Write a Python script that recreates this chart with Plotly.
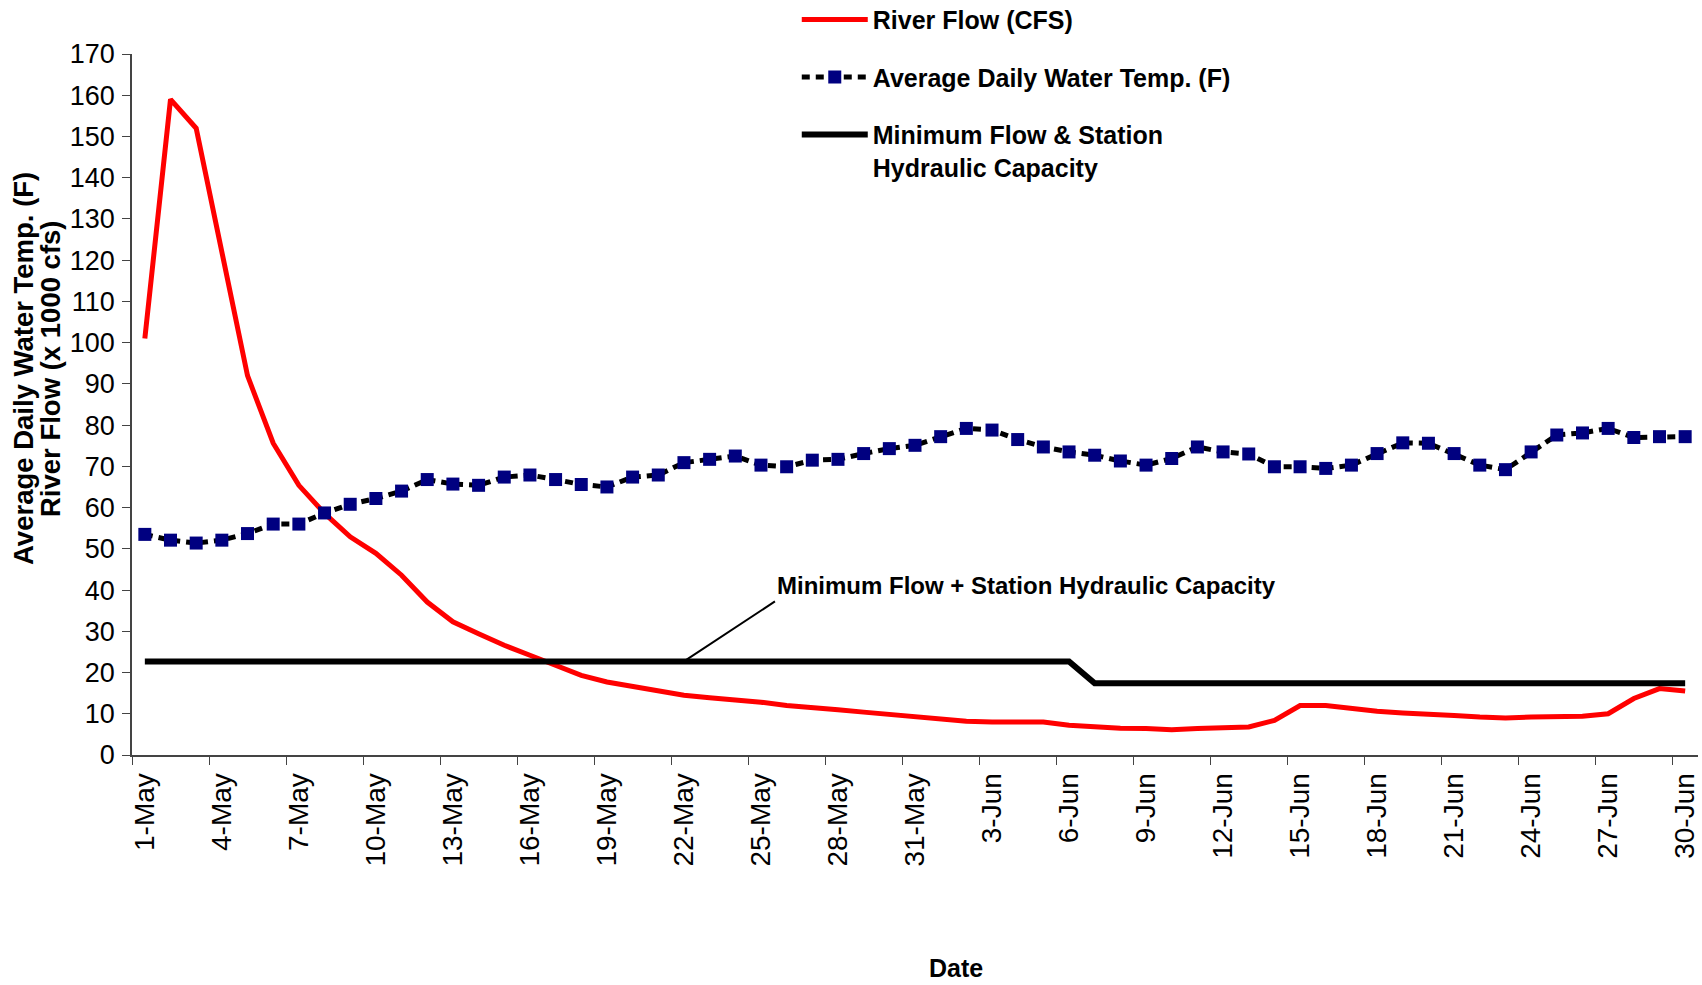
import pandas as pd
import plotly.graph_objects as go

# Daily categories, 1-May through 30-Jun
dates = pd.date_range("2009-05-01", "2009-06-30", freq="D")

# River flow (x 1000 cfs)
river_flow = [
    101, 159, 152, 122, 92, 75.6, 65.4, 58.6, 52.9, 48.9,
    43.6, 37.1, 32.3, 29.4, 26.6, 24.2, 21.7, 19.3, 17.7, 16.7,
    15.7, 14.5, 13.9, 13.4, 12.8, 12.0, 11.6, 11.0, 10.4, 9.8,
    9.2,
    8.6, 8.2, 8.0, 8.0, 8.0, 7.2, 6.8, 6.5, 6.4, 6.1,
    6.4, 6.5, 6.8, 8.4, 12.0, 12.0, 11.2, 10.6, 10.2, 10.0,
    9.6, 9.2, 9.0, 9.2, 9.4, 9.4, 10.0, 13.7, 16.1, 15.5,
]

# Average daily water temperature (F)
water_temp = [
    53.5, 52.1, 51.4, 52.1, 53.7, 56.0, 56.0, 58.7, 60.8, 62.2,
    64.0, 66.8, 65.7, 65.4, 67.4, 67.9, 66.8, 65.6, 65.0, 67.4,
    67.9, 70.9, 71.7, 72.5, 70.3, 69.9, 71.5, 71.7, 73.1, 74.3,
    75.1,
    77.2, 79.2, 78.8, 76.5, 74.7, 73.5, 72.7, 71.3, 70.3, 71.9,
    74.7, 73.5, 73.0, 69.9, 69.9, 69.5, 70.3, 73.1, 75.7, 75.6,
    73.1, 70.3, 69.2, 73.5, 77.6, 78.1, 79.2, 77.0, 77.2, 77.2,
]

# Minimum flow + station hydraulic capacity (x 1000 cfs)
min_flow = [
    22.7, 22.7, 22.7, 22.7, 22.7, 22.7, 22.7, 22.7, 22.7, 22.7,
    22.7, 22.7, 22.7, 22.7, 22.7, 22.7, 22.7, 22.7, 22.7, 22.7,
    22.7, 22.7, 22.7, 22.7, 22.7, 22.7, 22.7, 22.7, 22.7, 22.7,
    22.7,
    22.7, 22.7, 22.7, 22.7, 22.7, 22.7, 17.4, 17.4, 17.4, 17.4,
    17.4, 17.4, 17.4, 17.4, 17.4, 17.4, 17.4, 17.4, 17.4, 17.4,
    17.4, 17.4, 17.4, 17.4, 17.4, 17.4, 17.4, 17.4, 17.4, 17.4,
]

label_dates = dates[::3]
tick_labels = [f"{d.day}-{d.strftime('%b')}" for d in label_dates]
half_day = pd.Timedelta(hours=12)

ARIAL = "Liberation Sans, Arial, sans-serif"

fig = go.Figure()

fig.add_trace(go.Scatter(
    x=dates, y=river_flow, mode="lines", name="River Flow (CFS)",
    legendgroup="a", line=dict(color="#FF0000", width=5),
))
fig.add_trace(go.Scatter(
    x=dates, y=water_temp, mode="lines+markers",
    name="Average Daily Water Temp. (F)", legendgroup="b",
    line=dict(color="black", width=5, dash="8px,6px"),
    marker=dict(symbol="square", size=13, color="#000080"),
))
fig.add_trace(go.Scatter(
    x=dates, y=min_flow, mode="lines",
    name="Minimum Flow & Station<br>Hydraulic Capacity", legendgroup="c",
    line=dict(color="black", width=6),
))
# invisible helper trace so the label axis is drawn
fig.add_trace(go.Scatter(
    x=dates, y=[None] * len(dates), xaxis="x2", showlegend=False,
    hoverinfo="skip",
))

x_range = [dates[0] - half_day, dates[-1] + half_day]

fig.update_layout(
    width=1702, height=985,
    margin=dict(l=132, r=4, t=54, b=230, autoexpand=False),
    plot_bgcolor="white", paper_bgcolor="white",
    showlegend=True,
    legend=dict(
        x=0.4245, y=1.0815, xanchor="left", yanchor="top",
        font=dict(family=ARIAL, size=25, color="black", weight="bold"),
        tracegroupgap=22, itemwidth=66, valign="top",
        bgcolor="rgba(0,0,0,0)",
    ),
    xaxis=dict(
        type="date", range=x_range,
        tickvals=[d - half_day for d in label_dates],
        showticklabels=False, ticks="outside", ticklen=8,
        tickcolor="#444", showline=True, linecolor="#444", linewidth=2,
        showgrid=False, zeroline=False,
    ),
    xaxis2=dict(
        type="date", range=x_range, overlaying="x", anchor="y",
        side="bottom", tickvals=list(label_dates), ticktext=tick_labels,
        tickangle=-90, ticks="outside", ticklen=6,
        tickcolor="rgba(0,0,0,0)", showline=False, showgrid=False,
        zeroline=False,
        tickfont=dict(family=ARIAL, size=28, color="black"),
    ),
    yaxis=dict(
        range=[0, 170], dtick=10, ticks="outside", ticklen=8,
        tickcolor="#444", showline=True, linecolor="#444", linewidth=1.5,
        showgrid=False, zeroline=False, ticklabelstandoff=2,
        tickfont=dict(family=ARIAL, size=27, color="black"),
    ),
)

# y-axis title, two rotated lines
for line_text, px_x in [("Average Daily Water Temp. (F)", 23),
                        ("River Flow (x 1000 cfs)", 50)]:
    fig.add_annotation(
        text=line_text, xref="paper", yref="paper",
        x=(px_x - 132) / 1566, y=(755 - 369) / 701,
        xanchor="center", yanchor="middle", textangle=-90,
        showarrow=False,
        font=dict(family=ARIAL, size=27.5, color="black", weight="bold"),
    )

fig.add_annotation(
    text="Date", xref="paper", yref="paper", x=0.526, y=-0.304,
    xanchor="center", yanchor="middle", showarrow=False,
    font=dict(family=ARIAL, size=25, color="black", weight="bold"),
)
fig.add_annotation(
    text="Minimum Flow + Station Hydraulic Capacity",
    x=dates[21], y=min_flow[21],
    ax=91, ay=-60, xanchor="left", yanchor="bottom",
    showarrow=True, arrowhead=0, arrowwidth=2, arrowcolor="black",
    font=dict(family=ARIAL, size=24, color="black", weight="bold"),
)

# drop the default 8px page margin so the figure fills the window
fig.write_html(
    "out.html",
    config={"displayModeBar": False},
    post_script="document.body.style.margin='0';",
)
